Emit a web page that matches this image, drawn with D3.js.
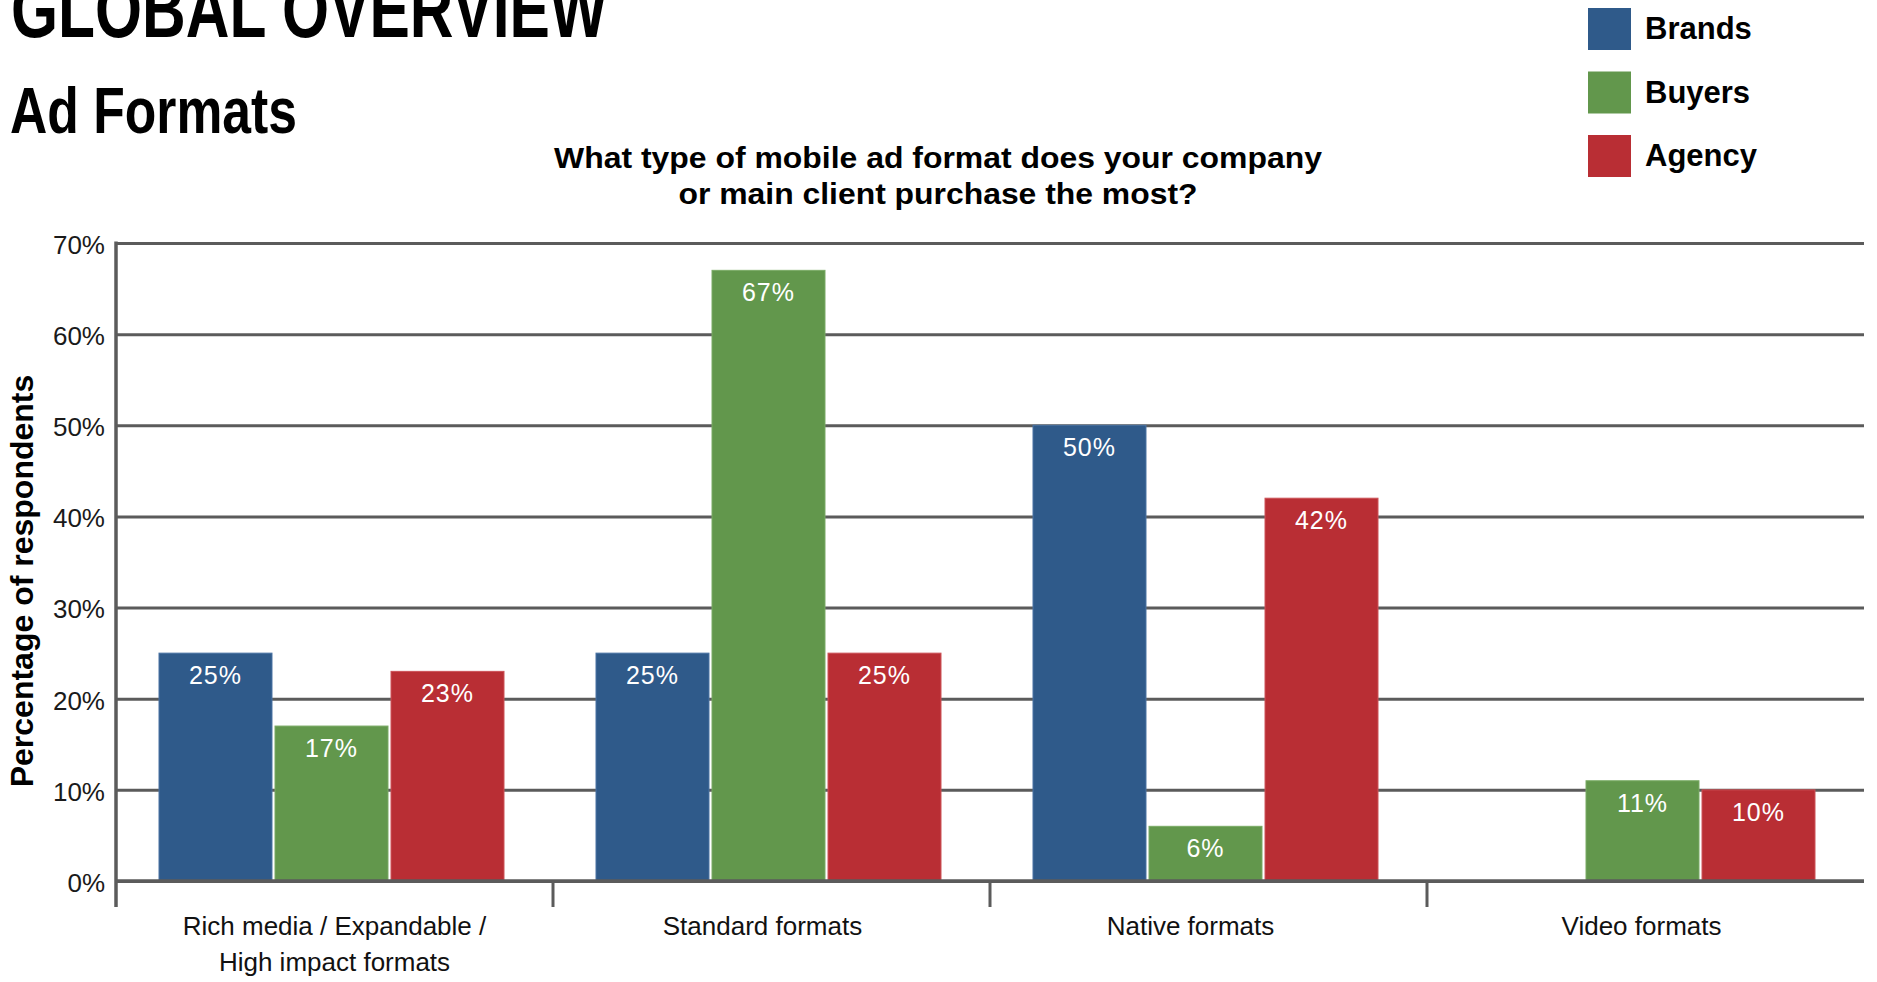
<!DOCTYPE html>
<html>
<head>
<meta charset="utf-8">
<script src="https://cdn.jsdelivr.net/npm/d3@7/dist/d3.min.js"></script>
<style>
  html, body { margin: 0; padding: 0; background: #ffffff; }
  svg { display: block; }
</style>
</head>
<body>
<svg id="chart" width="1877" height="982"></svg>
<script>
// Survey: most purchased mobile ad format, by respondent type
const categories = ["Rich media", "Standard", "Native", "Video"];
const categoryLabels = [
  ["Rich media / Expandable /", "High impact formats"],
  ["Standard formats"],
  ["Native formats"],
  ["Video formats"]
];
const seriesNames = ["Brands", "Buyers", "Agency"];
const brands = [25, 25, 50, 0];
const buyers = [17, 67, 6, 11];
const agency = [23, 25, 42, 10];
const yTicks = [0, 10, 20, 30, 40, 50, 60, 70];

const seriesValues = { Brands: brands, Buyers: buyers, Agency: agency };
const colors = { Brands: "#2f5a8a", Buyers: "#62974c", Agency: "#b92e34" };
const edge = { Brands: "#4a73a3", Buyers: "#7aab65", Agency: "#cc5257" };

// horizontal nudge of each category caption from its group centre
const captionShift = [0, -9, -18, -4];

const svg = d3.select("#chart");
const plot = { left: 116, right: 1864, top: 243, bottom: 881 };

const x0 = d3.scaleBand().domain(categories).range([plot.left, plot.right]).padding(0);
const x1 = d3.scaleBand().domain(seriesNames).range([43, 388]).paddingInner(0.026);
const y = d3.scaleLinear().domain([0, 70]).range([plot.bottom, plot.top]);

const gridColor = "#5b5b5b";

// Headings
svg.append("text")
  .attr("x", 11).attr("y", 37)
  .attr("font-family", "'Liberation Sans Narrow', 'Liberation Sans', Arial, sans-serif")
  .attr("font-weight", "bold").attr("font-size", 80)
  .attr("textLength", 596).attr("lengthAdjust", "spacingAndGlyphs")
  .attr("fill", "#000").text("GLOBAL OVERVIEW");

svg.append("text")
  .attr("x", 10).attr("y", 133)
  .attr("font-family", "'Liberation Sans Narrow', 'Liberation Sans', Arial, sans-serif")
  .attr("font-weight", "bold").attr("font-size", 64)
  .attr("textLength", 287).attr("lengthAdjust", "spacingAndGlyphs")
  .attr("fill", "#000").text("Ad Formats");

const question = [
  { text: "What type of mobile ad format does your company", y: 168, w: 768 },
  { text: "or main client purchase the most?", y: 204, w: 519 }
];
svg.selectAll("text.question").data(question).join("text")
  .attr("class", "question")
  .attr("x", 938).attr("y", d => d.y)
  .attr("text-anchor", "middle")
  .attr("font-family", "'Liberation Sans', Arial, sans-serif")
  .attr("font-weight", "bold").attr("font-size", 29)
  .attr("textLength", d => d.w).attr("lengthAdjust", "spacingAndGlyphs")
  .attr("fill", "#000").text(d => d.text);

// Legend
const legend = svg.append("g").attr("transform", "translate(1588,8)");
const li = legend.selectAll("g").data(seriesNames).join("g")
  .attr("transform", (d, i) => `translate(0,${i * 63.5})`);
li.append("rect").attr("width", 43).attr("height", 42).attr("fill", d => colors[d]);
li.append("text")
  .attr("x", 57).attr("y", 31)
  .attr("font-family", "'Liberation Sans', Arial, sans-serif")
  .attr("font-weight", "bold").attr("font-size", 31)
  .attr("fill", "#000").text(d => d);

// Y axis with gridlines
const yAxis = d3.axisLeft(y)
  .tickValues(yTicks)
  .tickFormat(d => d + "%")
  .tickSizeInner(-(plot.right - plot.left))
  .tickSizeOuter(0)
  .tickPadding(11);

const yg = svg.append("g").attr("transform", `translate(${plot.left},0)`).call(yAxis);
yg.select(".domain").remove();
yg.selectAll(".tick line").attr("stroke", gridColor).attr("stroke-width", 3);
yg.selectAll(".tick text")
  .attr("font-family", "'Liberation Sans', Arial, sans-serif")
  .attr("font-size", 26).attr("fill", "#1a1a1a")
  .attr("dy", "0.4em");

// Bars
const groups = svg.append("g").selectAll("g").data(categories).join("g")
  .attr("transform", d => `translate(${x0(d)},0)`);

const barData = ci => seriesNames.map(s => ({ series: s, value: seriesValues[s][ci] }));

groups.each(function (c, ci) {
  const g = d3.select(this);
  const data = barData(ci).filter(d => d.value > 0);
  g.selectAll("rect").data(data).join("rect")
    .attr("x", d => x1(d.series))
    .attr("y", d => y(d.value))
    .attr("width", x1.bandwidth())
    .attr("height", d => y(0) - y(d.value))
    .attr("fill", d => colors[d.series])
    .attr("stroke", d => edge[d.series])
    .attr("stroke-width", 1);
  g.selectAll("text").data(data).join("text")
    .attr("x", d => x1(d.series) + x1.bandwidth() / 2)
    .attr("y", d => y(d.value) + 31)
    .attr("text-anchor", "middle")
    .attr("font-family", "'Liberation Sans', Arial, sans-serif")
    .attr("font-size", 25).attr("letter-spacing", 1)
    .attr("fill", "#ffffff")
    .text(d => d.value + "%");
});

// Axis lines
svg.append("line")
  .attr("x1", plot.left).attr("x2", plot.right)
  .attr("y1", y(0)).attr("y2", y(0))
  .attr("stroke", gridColor).attr("stroke-width", 3.5);

svg.append("line")
  .attr("x1", plot.left).attr("x2", plot.left)
  .attr("y1", plot.top - 1.5).attr("y2", 907)
  .attr("stroke", gridColor).attr("stroke-width", 3.5);

// Category separators on the x axis
svg.append("g").selectAll("line").data(categories.slice(1)).join("line")
  .attr("x1", d => x0(d)).attr("x2", d => x0(d))
  .attr("y1", y(0)).attr("y2", 907)
  .attr("stroke", gridColor).attr("stroke-width", 3);

// Category labels
const catText = svg.append("g").selectAll("text").data(categories).join("text")
  .attr("x", (d, i) => x0(d) + x0.bandwidth() / 2 + captionShift[i])
  .attr("y", 935)
  .attr("text-anchor", "middle")
  .attr("font-family", "'Liberation Sans', Arial, sans-serif")
  .attr("font-size", 26).attr("fill", "#111");
catText.selectAll("tspan").data((d, i) => categoryLabels[i]).join("tspan")
  .attr("x", function () { return d3.select(this.parentNode).attr("x"); })
  .attr("dy", (d, i) => i === 0 ? 0 : 36)
  .text(d => d);

// Y axis title
svg.append("text")
  .attr("transform", "translate(33,581) rotate(-90)")
  .attr("text-anchor", "middle")
  .attr("font-family", "'Liberation Sans', Arial, sans-serif")
  .attr("font-weight", "bold").attr("font-size", 32)
  .attr("fill", "#000").text("Percentage of respondents");
</script>
</body>
</html>
